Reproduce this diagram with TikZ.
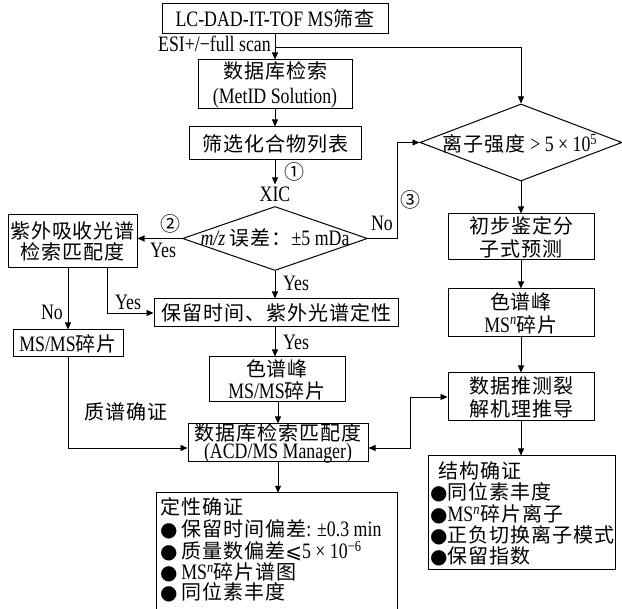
\documentclass[tikz,border=0pt]{standalone}
\usepackage{fontspec}
\setmainfont{Liberation Serif}[FakeStretch=0.81,Scale=1.1]
\newfontfamily\cjkfont{Noto Sans CJK SC}[LetterSpace=5]
\newfontfamily\symfont{DejaVu Sans}
\newcommand\zh[1]{{\cjkfont #1}}
\newcommand\bul{{\symfont ●}}
\usetikzlibrary{arrows.meta,shapes.geometric}
\begin{document}
\begin{tikzpicture}[x=1pt,y=-1pt,
  font=\fontsize{20}{23}\selectfont,
  frame/.style={draw,line width=1pt,inner sep=0pt},
  txt/.style={inner sep=0pt,align=center},
  lbl/.style={inner sep=0pt},
  row/.style={inner sep=0pt,anchor=base west,text height=14pt,text depth=3pt},
  dia/.style={diamond,draw,line width=1pt,inner sep=0pt},
  arr/.style={line width=0.8pt,-{Triangle[length=7pt,width=6pt]}},
  dbl/.style={line width=0.8pt,{Triangle[length=7pt,width=6pt]}-{Triangle[length=7pt,width=6pt]}},
  ln/.style={line width=0.8pt}]
\useasboundingbox (0,0) rectangle (622,609);

% top column
\node[frame,minimum width=226pt,minimum height=30pt] (b1) at (275,19) {};
\node[txt] (b1t) at (b1) {LC-DAD-IT-TOF MS\zh{筛查}};
\node[frame,minimum width=154pt,minimum height=49pt] (b2) at (275,84.5) {};
\node[txt,font=\fontsize{20}{25}\selectfont] (b2t) at (b2) {\zh{数据库检索}\\(MetID Solution)};
\node[frame,minimum width=172pt,minimum height=33pt] (b3) at (275,143.5) {};
\node[txt] (b3t) at (b3) {\zh{筛选化合物列表}};
\node[lbl,inner sep=2pt] (xic) at (275,194) {XIC};
\node[lbl] (n1) at (294,172) {\zh{①}};
\node[lbl,anchor=east] (esi) at (271,44) {ESI+/−full scan};

% diamonds
\node[dia,minimum width=185pt,minimum height=64pt] (d1) at (275,238.5) {};
\node[lbl] (d1t) at (275,238) {\textit{m/z} \zh{误差：}±5 mDa};
\node[dia,minimum width=202pt,minimum height=77pt] (d2) at (521,142.5) {};
\node[lbl] (d2t) at (520,144) {\zh{离子强度} > 5 × 10\textsuperscript{5}};
\node[lbl] (no1) at (382,223) {No};
\node[lbl] (n3) at (410,200) {\zh{③}};

% right column
\node[frame,minimum width=146pt,minimum height=46pt] (r1) at (521,237) {};
\node[txt] (r1t) at (r1) {\zh{初步鉴定分}\\\zh{子式预测}};
\node[frame,minimum width=146pt,minimum height=48pt] (r2) at (521,313) {};
\node[txt] (r2t) at (r2) {\zh{色谱峰}\\MS\textsuperscript{\textit{n}}\zh{碎片}};
\node[frame,minimum width=146pt,minimum height=48pt] (r3) at (521,397) {};
\node[txt] (r3t) at (r3) {\zh{数据推测裂}\\\zh{解机理推导}};
\node[frame,minimum width=187pt,minimum height=114pt] (r4) at (521.5,513) {};
\node[row] (r4a) at (438,479) {\zh{结构确证}};
\node[row] (r4b) at (430,500) {\bul\zh{同位素丰度}};
\node[row] (r4c) at (430,522) {\bul MS\textsuperscript{\textit{n}}\zh{碎片离子}};
\node[row] (r4d) at (430,543) {\bul\zh{正负切换离子模式}};
\node[row] (r4e) at (430,564) {\bul\zh{保留指数}};

% left column
\node[frame,minimum width=129pt,minimum height=53pt] (l1) at (72.5,241.5) {};
\node[txt,font=\fontsize{20}{21}\selectfont] (l1t) at (l1) {\zh{紫外吸收光谱}\\\zh{检索匹配度}};
\node[lbl] (n2) at (170,224) {\zh{②}};
\node[lbl] (y2) at (163,250) {Yes};
\node[frame,minimum width=110pt,minimum height=27pt] (l2) at (68,343.5) {};
\node[txt] (l2t) at (l2) {MS/MS\zh{碎片}};
\node[lbl] (no2) at (52,312) {No};
\node[lbl] (y3) at (128,302) {Yes};
\node[lbl] (zp) at (126,412) {\zh{质谱确证}};

% centre column
\node[frame,minimum width=244pt,minimum height=28pt] (c1) at (276,313) {};
\node[txt] (c1t) at (c1) {\zh{保留时间、紫外光谱定性}};
\node[lbl] (y1) at (296,283) {Yes};
\node[lbl] (y4) at (296,342) {Yes};
\node[frame,minimum width=136pt,minimum height=45pt] (c2) at (277,379.5) {};
\node[txt,font=\fontsize{20}{22}\selectfont] (c2t) at (c2) {\zh{色谱峰}\\MS/MS\zh{碎片}};
\node[frame,minimum width=180pt,minimum height=38pt] (c3) at (278,443) {};
\node[txt,font=\fontsize{20}{18}\selectfont] (c3t) at (c3) {\zh{数据库检索匹配度}\\(ACD/MS Manager)};
\node[lbl,minimum width=240pt,minimum height=116pt] (c4) at (277,551) {};
\draw[frame] (c4.south west) -- (c4.north west) -- (c4.north east) -- (c4.south east);
\node[row] (c4a) at (160,515) {\zh{定性确证}};
\node[row] (c4b) at (160,537) {\bul\,\zh{保留时间偏差}: ±0.3 min};
\node[row] (c4c) at (160,559) {\bul\,\zh{质量数偏差}{\symfont ⩽}5 × 10\textsuperscript{−6}};
\node[row] (c4d) at (160,580) {\bul\,MS\textsuperscript{\textit{n}}\zh{碎片谱图}};
\node[row] (c4e) at (160,600) {\bul\,\zh{同位素丰度}};

% helper coordinates
\coordinate (esij) at (275,47);
\coordinate (nox) at (397,0);
\coordinate (lx2) at (107,0);

% connectors
\draw[arr] (b1) -- (b2);
\draw[ln] (b1.south |- esij) -- (esij);
\draw[arr] (esij) -| (d2.north);
\draw[arr] (b2) -- (b3);
\draw[arr] (b3) -- (xic.north);
\draw[arr] (d1.west) -- (d1.west -| l1.east);
\draw[arr] (d1.east) -- (d1.east -| nox) |- (d2.west);
\draw[arr] (d1.south) -- (d1.south |- c1.north);
\draw[arr] (l1.south -| l2.north) -- (l2.north);
\draw[arr] (l1.south -| lx2) |- (c1.west);
\draw[arr] (l2.south) |- ([yshift=-5pt]c3.west);
\draw[arr] (c1.south -| 275,0) -- (c2.north -| 275,0);
\draw[arr] (c2.south -| c3.north) -- (c3.north);
\draw[dbl] ([yshift=-5pt]c3.east) -- ++(42,0) |- (r3.west);
\draw[arr] (c3.south) -- (c3.south |- c4.north);
\draw[arr] (d2.south) -- (d2.south |- r1.north);
\draw[arr] (r1) -- (r2);
\draw[arr] (r2) -- (r3);
\draw[arr] (r3.south) -- (r3.south |- r4.north);
\end{tikzpicture}
\end{document}
